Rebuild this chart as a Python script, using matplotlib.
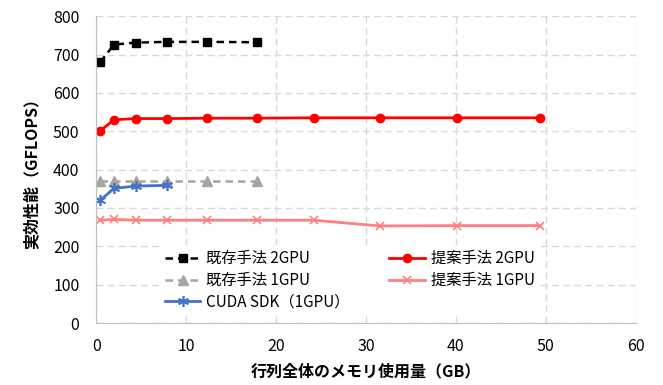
import matplotlib
matplotlib.use("Agg")
from matplotlib import pyplot as plt

plt.rcParams['font.family'] = ['Noto Sans CJK JP', 'DejaVu Sans']

# memory usage (GB) for each run
mem_2gpu = [0.44, 2.0, 4.4, 7.9, 12.3, 17.9]
mem_prop = [0.44, 2.0, 4.4, 7.9, 12.3, 17.9, 24.2, 31.6, 40.1, 49.4]
mem_cuda = [0.44, 2.0, 4.4, 7.9]

# performance (GFLOPS)
kizon_2gpu = [680, 726, 731, 733, 733, 732]
kizon_1gpu = [369, 369, 369, 369, 369, 369]
teian_2gpu = [501, 530, 533, 533, 534, 534, 535, 535, 535, 535]
teian_1gpu = [268, 270, 268, 268, 268, 268, 268, 253, 254, 254]
cuda_sdk = [320, 351, 357, 359]

labels = ["既存手法 2GPU", "既存手法 1GPU", "CUDA SDK（1GPU）", "提案手法 2GPU", "提案手法 1GPU"]

fig = plt.figure(figsize=(6.63, 3.85), dpi=100)
ax = fig.add_axes([0.145, 0.161, 0.814, 0.797])

h1, = ax.plot(mem_2gpu, kizon_2gpu, color="black", ls=(0, (3, 2)), lw=1.8,
              marker="s", ms=6, label=labels[0])
h2, = ax.plot(mem_2gpu, kizon_1gpu, color="#a5a5a5", ls=(0, (3, 2)), lw=1.8,
              marker="^", ms=6.5, label=labels[1])
h3, = ax.plot(mem_cuda, cuda_sdk, color="#4472c4", lw=2,
              marker=(6, 2, 0), ms=8, mew=1.2, label=labels[2])
h4, = ax.plot(mem_prop, teian_2gpu, color="#ff0000", lw=2,
              marker="o", ms=6, label=labels[3])
h5, = ax.plot(mem_prop, teian_1gpu, color="#ff8080", lw=2,
              marker="x", ms=6, mew=1.2, label=labels[4])

ax.set_xlim(0, 60)
ax.set_ylim(0, 800)
ax.set_xticks(range(0, 61, 10))
ax.set_yticks(range(0, 801, 100))
ax.grid(True, color="#d9d9d9", ls=(0, (5, 3)), lw=1)
ax.set_axisbelow(True)
for s in ("top", "right"):
    ax.spines[s].set_visible(False)
for s in ("left", "bottom"):
    ax.spines[s].set_color("#bfbfbf")
ax.tick_params(axis="x", length=0, labelsize=11.5, pad=11)
ax.tick_params(axis="y", length=0, labelsize=11.5, pad=12)

ax.set_xlabel("行列全体のメモリ使用量（GB）", fontsize=11.5, fontweight="bold", labelpad=6)
ax.set_ylabel("実効性能（GFLOPS）", fontsize=11.5, fontweight="bold", labelpad=10)

leg = ax.legend(handles=[h1, h2, h3, h4, h5], ncol=2, loc="lower left",
                bbox_to_anchor=(0.105, 0.0), frameon=True, facecolor="white",
                edgecolor="none", framealpha=1, fontsize=11, columnspacing=2.6,
                handlelength=2.3, handletextpad=0.4, labelspacing=0.32,
                borderpad=0.3)

fig.savefig("out.png", dpi=100)
